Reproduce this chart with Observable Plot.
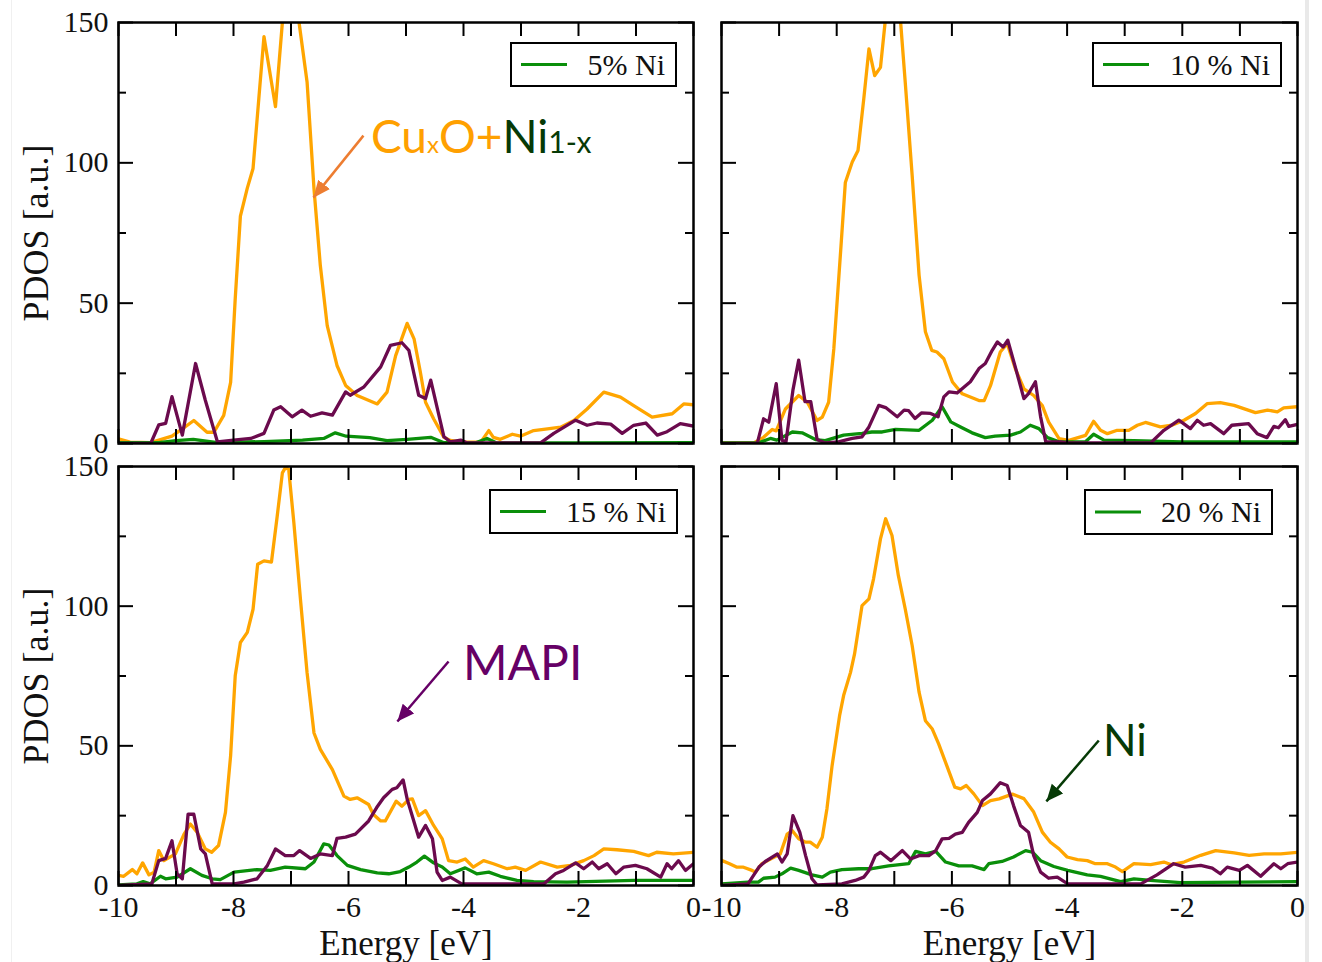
<!DOCTYPE html>
<html><head><meta charset="utf-8">
<script src="https://cdn.jsdelivr.net/npm/d3@7"></script>
<script src="https://cdn.jsdelivr.net/npm/@observablehq/plot@0.6"></script>
<style>
body{margin:0;background:#fff;}
#root{position:relative;width:1322px;height:962px;overflow:hidden;background:#fff;}
.panel{position:absolute;}
#overlay{position:absolute;left:0;top:0;pointer-events:none;}
.edge{position:absolute;top:0;height:962px;background:#e9e9e9;}
</style></head>
<body><div id="root">
<div class="edge" style="left:1305px;width:4px"></div>
<div class="edge" style="left:11px;width:1px;background:#f0f0f0"></div>
</div>
<script>
// ---------- data: [energy (eV), PDOS (a.u.)] ----------
const cu5 = [[-10,1.7],[-9.8,0.5],[-9.44,0.3],[-9.07,2.6],[-8.89,5.2],[-8.69,8.2],[-8.46,4.0],[-8.34,4.0],[-8.17,10],[-8.05,21.8],[-7.97,51.6],[-7.88,81],[-7.76,91],[-7.66,98],[-7.56,122.8],[-7.47,145],[-7.27,120],[-7.15,150],[-7.0,178],[-6.86,150],[-6.72,128.7],[-6.60,90.7],[-6.49,63.4],[-6.37,42],[-6.20,27.8],[-6.05,20.7],[-5.85,17.1],[-5.50,14.1],[-5.33,18.3],[-5.18,31.3],[-4.98,42.8],[-4.86,37.3],[-4.75,25.4],[-4.66,14.7],[-4.52,8.8],[-4.34,2.2],[-4.23,1.1],[-4.03,0.5],[-3.70,0.5],[-3.56,4.6],[-3.48,2.2],[-3.36,1.5],[-3.15,3.3],[-3.01,2.6],[-2.78,4.6],[-2.54,5.2],[-2.31,5.8],[-2.08,8.2],[-1.85,12.3],[-1.56,18.3],[-1.27,16.5],[-1.04,13.5],[-0.72,9.4],[-0.37,10.6],[-0.17,14.1],[0,13.8]];
const mapi5 = [[-10,0],[-9.44,0],[-9.30,6.6],[-9.18,7.2],[-9.07,16.7],[-8.89,3.0],[-8.66,28.5],[-8.49,15.4],[-8.28,0.6],[-8.0,1.2],[-7.70,1.8],[-7.47,3.6],[-7.30,11.9],[-7.18,13.1],[-6.98,9.5],[-6.81,11.9],[-6.66,9.7],[-6.46,10.9],[-6.28,10.1],[-6.05,18.4],[-5.97,17.2],[-5.73,20.2],[-5.44,27.3],[-5.27,35],[-5.07,35.9],[-4.95,33.2],[-4.78,17.2],[-4.66,16],[-4.57,22.6],[-4.34,2.4],[-4.23,0.6],[-4.05,1.2],[-3.93,0.2],[-2.66,0.2],[-2.43,3.6],[-2.05,8.3],[-1.85,6.5],[-1.68,7.3],[-1.44,6.9],[-1.24,3.6],[-1.04,6.5],[-0.83,7.3],[-0.63,3.0],[-0.46,4.2],[-0.23,7.1],[0,6.2]];
const ni5 = [[-10,0.3],[-9.3,0.3],[-9.0,1.0],[-8.7,1.5],[-8.28,0.3],[-7.47,0.7],[-6.8,1.2],[-6.43,1.8],[-6.23,3.8],[-6.04,2.6],[-5.63,2.1],[-5.33,1.0],[-4.98,1.5],[-4.57,2.2],[-4.34,0.3],[-3.8,0.2],[-3.59,1.8],[-3.42,0.2],[-2.0,0.2],[0,0.3]];

const cu10 = [[-10,0.2],[-9.44,0.2],[-9.27,2.2],[-9.12,5.0],[-9.05,4.5],[-8.89,12.3],[-8.66,17.1],[-8.51,14.7],[-8.34,8.2],[-8.25,9.4],[-8.14,14.7],[-8.05,33.7],[-7.93,69],[-7.85,93],[-7.73,100.3],[-7.63,104.4],[-7.53,122.8],[-7.44,140.6],[-7.34,131.1],[-7.24,134],[-7.16,150],[-7.03,172],[-6.89,150],[-6.81,128.7],[-6.69,95.5],[-6.57,60],[-6.46,39.8],[-6.35,33.2],[-6.26,32.6],[-6.14,30.2],[-5.99,21.9],[-5.82,17.7],[-5.53,15.3],[-5.44,15.3],[-5.33,20.6],[-5.16,32.6],[-5.04,35.6],[-4.90,26.7],[-4.75,19.5],[-4.58,17.1],[-4.43,13.5],[-4.32,7.6],[-4.14,1.7],[-3.97,1.1],[-3.68,2.9],[-3.54,7.9],[-3.42,4.7],[-3.30,3.5],[-3.13,4.7],[-2.93,4.7],[-2.78,6.5],[-2.64,7.5],[-2.38,5.9],[-2.18,6.5],[-1.97,8.3],[-1.77,10.7],[-1.57,14.2],[-1.34,14.6],[-1.10,13.6],[-0.73,11],[-0.52,11.9],[-0.35,11.3],[-0.24,12.7],[0,13.1]];
const mapi10 = [[-10,0],[-9.38,0],[-9.27,8.8],[-9.18,7.6],[-9.05,21.3],[-8.95,1.1],[-8.88,0.6],[-8.76,19.0],[-8.66,29.7],[-8.55,14.9],[-8.45,14.9],[-8.34,1.4],[-8.2,0.2],[-7.97,0.6],[-7.73,1.8],[-7.56,2.4],[-7.44,5.9],[-7.27,13.6],[-7.15,12.8],[-6.95,9.5],[-6.83,11.9],[-6.75,11.7],[-6.64,8.9],[-6.53,10.9],[-6.37,10.7],[-6.24,9.5],[-6.14,16.6],[-6.05,18.4],[-5.91,18],[-5.68,22],[-5.53,26.7],[-5.42,28.5],[-5.30,33.2],[-5.21,36.2],[-5.11,34.4],[-5.03,36.8],[-4.90,27.3],[-4.75,16],[-4.67,17.8],[-4.55,22],[-4.46,9.5],[-4.37,0.6],[-4.11,0.6],[-3.99,0.2],[-2.55,0.2],[-2.32,4.7],[-2.06,8.3],[-1.86,5.3],[-1.74,8.3],[-1.63,6.5],[-1.51,7.1],[-1.28,3.5],[-1.14,6.5],[-0.85,7.1],[-0.70,3.5],[-0.53,2.1],[-0.41,6.1],[-0.33,5.6],[-0.21,8.5],[-0.15,6.1],[0,6.8]];
const ni10 = [[-10,0.2],[-9.36,0.2],[-9.15,1.8],[-9.04,1.2],[-8.77,4.1],[-8.60,3.8],[-8.37,1.4],[-8.2,1.0],[-7.88,3.0],[-7.56,3.6],[-7.39,4.1],[-7.21,4.1],[-6.98,5.0],[-6.57,4.7],[-6.34,8.3],[-6.17,13.1],[-6.02,7.7],[-5.85,5.9],[-5.65,3.8],[-5.42,2.1],[-5.25,2.6],[-4.98,3.0],[-4.81,4.1],[-4.64,6.5],[-4.49,5.3],[-4.34,2.1],[-4.14,0.6],[-3.68,0.6],[-3.54,3.3],[-3.36,1.2],[-2.84,1.0],[-2.0,0.6],[0,0.6]];

const cu15 = [[-10,3.6],[-9.91,3.3],[-9.76,5.7],[-9.68,4.2],[-9.58,8.1],[-9.47,3.8],[-9.38,4.8],[-9.30,12.5],[-9.21,8.9],[-9.01,11.3],[-8.86,18.4],[-8.75,22],[-8.63,19],[-8.49,13.1],[-8.38,11.9],[-8.26,14.3],[-8.14,26.2],[-8.05,46.5],[-7.97,75.1],[-7.88,87],[-7.76,90.6],[-7.66,98.9],[-7.58,115],[-7.47,116.2],[-7.34,115.8],[-7.24,132.2],[-7.15,147.7],[-7.10,149.5],[-7.04,149],[-6.95,129.8],[-6.83,101.2],[-6.72,76.1],[-6.60,54.6],[-6.49,48.7],[-6.28,41.5],[-6.08,32],[-5.97,30.8],[-5.85,31.4],[-5.65,29],[-5.57,25.5],[-5.44,23.1],[-5.36,23.1],[-5.17,30.2],[-5.07,28.4],[-4.95,30.8],[-4.89,31],[-4.78,25],[-4.66,26.8],[-4.52,21.5],[-4.37,16.7],[-4.26,8.9],[-4.11,8.4],[-3.97,9.5],[-3.83,6.6],[-3.65,8.9],[-3.48,7.8],[-3.24,6],[-3.10,6.6],[-2.92,5.4],[-2.66,8.4],[-2.37,6.6],[-2.14,7.2],[-1.91,8.9],[-1.73,10.7],[-1.56,13.1],[-1.33,12.8],[-1.04,12.2],[-0.78,10.7],[-0.64,11.9],[-0.35,11.3],[0,11.9]];
const mapi15 = [[-10,0],[-9.42,0.6],[-9.30,8.9],[-9.18,9.7],[-9.07,16],[-8.98,4.1],[-8.89,2.4],[-8.79,25.5],[-8.69,25.5],[-8.57,13.1],[-8.49,11.3],[-8.37,0.6],[-7.99,0.6],[-7.82,1.2],[-7.59,2.4],[-7.41,7.2],[-7.27,13.1],[-7.10,10.7],[-6.95,10.7],[-6.85,12.5],[-6.66,9.7],[-6.49,11.3],[-6.28,10.7],[-6.20,16.9],[-6.05,17.3],[-5.88,18.4],[-5.65,23.1],[-5.51,27.9],[-5.39,31.4],[-5.24,34.4],[-5.16,35],[-5.05,37.8],[-4.98,31],[-4.78,17.3],[-4.66,21.5],[-4.54,16.7],[-4.46,4.8],[-4.37,1.8],[-4.23,3.0],[-4.03,0.6],[-2.60,0.6],[-2.40,4.2],[-2.26,5.4],[-2.05,8.1],[-1.91,6],[-1.76,8.4],[-1.65,6],[-1.50,7.8],[-1.35,4.2],[-1.21,6.6],[-1.01,7.2],[-0.81,6],[-0.57,3],[-0.46,7.8],[-0.38,6],[-0.26,8.9],[-0.14,5.4],[0,7.8]];
const ni15 = [[-10,0.2],[-9.68,0.6],[-9.57,1.4],[-9.45,0.6],[-9.27,3.3],[-9.18,2.4],[-8.98,3],[-8.75,6],[-8.55,3.6],[-8.37,2.4],[-8.23,2.1],[-7.99,4.8],[-7.59,5.7],[-7.36,5.4],[-7.10,6.6],[-6.75,6],[-6.60,8.4],[-6.43,14.9],[-6.34,14.5],[-6.20,10.7],[-6.02,7.2],[-5.79,5.7],[-5.50,4.5],[-5.30,4.2],[-5.10,5.0],[-4.95,6.6],[-4.81,8.4],[-4.68,10.5],[-4.52,8.1],[-4.37,6.6],[-4.23,4.2],[-3.97,6.3],[-3.77,4.2],[-3.56,4.8],[-3.36,3.3],[-3.07,1.8],[-2.78,1.4],[-2.20,1.2],[-1.04,1.8],[0,1.8]];

const cu20 = [[-10,9],[-9.86,7.8],[-9.74,6.6],[-9.63,6.6],[-9.47,5.4],[-9.41,4.8],[-9.30,7.8],[-9.15,9.5],[-8.98,11.3],[-8.86,18.4],[-8.77,19.6],[-8.66,16.7],[-8.54,15.5],[-8.46,15.5],[-8.34,13.7],[-8.25,17.3],[-8.17,27.4],[-8.08,42.9],[-7.95,60.8],[-7.88,68],[-7.76,76.3],[-7.69,82.9],[-7.56,100.2],[-7.44,102.6],[-7.36,109.8],[-7.24,124.1],[-7.15,131.3],[-7.04,125.3],[-6.93,111],[-6.81,99],[-6.69,85.9],[-6.57,69.2],[-6.46,59],[-6.34,56],[-6.23,50.7],[-6.11,44.1],[-5.95,35.2],[-5.85,34.6],[-5.75,35.8],[-5.62,32.8],[-5.47,28.6],[-5.33,30.4],[-5.18,31],[-4.95,32.7],[-4.75,31.1],[-4.58,26.3],[-4.43,19.1],[-4.29,15.5],[-4.14,13.1],[-4.0,10.2],[-3.82,9.3],[-3.65,8.9],[-3.51,7.8],[-3.30,7.8],[-3.16,6.6],[-3.04,5],[-2.84,7.8],[-2.55,7.5],[-2.32,8.4],[-2.20,7.5],[-1.97,8.4],[-1.68,10.8],[-1.42,12.5],[-1.10,11.7],[-0.84,10.8],[-0.58,11.3],[-0.29,11.3],[0,11.9]];
const mapi20 = [[-10,0],[-9.54,0.6],[-9.35,6.6],[-9.24,8.6],[-9.03,11.3],[-8.95,8.4],[-8.86,11.3],[-8.76,25],[-8.64,19],[-8.54,10.7],[-8.43,2.4],[-8.34,0.2],[-7.91,0.6],[-7.68,1.8],[-7.53,3.0],[-7.44,5.4],[-7.33,10.7],[-7.24,11.9],[-7.06,8.9],[-6.86,12.5],[-6.72,9.5],[-6.57,10.7],[-6.40,10.7],[-6.28,12.5],[-6.17,16.7],[-6.05,16.9],[-5.94,18.4],[-5.82,19],[-5.71,22.6],[-5.56,26.2],[-5.47,30.4],[-5.33,32.8],[-5.16,36.8],[-5.04,35.8],[-4.93,28.6],[-4.81,21.5],[-4.67,19.1],[-4.58,10.7],[-4.46,4.8],[-4.32,2.6],[-4.17,3.0],[-3.99,0.6],[-2.72,0.6],[-2.44,3.8],[-2.15,7.8],[-1.95,6.6],[-1.68,7.2],[-1.48,6.2],[-1.34,4.2],[-1.22,6.6],[-1.01,5.4],[-0.87,7.2],[-0.64,3.3],[-0.41,7.8],[-0.29,6],[-0.17,7.8],[0,8.4]];
const ni20 = [[-10,0.6],[-9.54,1.2],[-9.36,1.2],[-9.27,2.6],[-9.07,3.0],[-8.95,4.2],[-8.80,6.2],[-8.66,5.4],[-8.43,3.8],[-8.25,3],[-8.11,4.8],[-7.91,5.7],[-7.62,6],[-7.39,6],[-7.10,7],[-6.75,7.8],[-6.63,12.2],[-6.46,11.3],[-6.28,12.2],[-6.11,8.4],[-5.88,7],[-5.65,7],[-5.44,5.7],[-5.36,7.8],[-5.13,8.6],[-4.93,10.2],[-4.72,12.5],[-4.60,11.9],[-4.46,8.9],[-4.23,6.8],[-3.99,5.4],[-3.65,3.8],[-3.42,3.3],[-3.07,1.4],[-2.84,2.4],[-2.55,1.8],[-2.03,1.0],[0,1.4]];

// ticks and labels
const xTicks = [-10,-9,-8,-7,-6,-5,-4,-3,-2,-1,0];
const xTickLabels = [-10,-8,-6,-4,-2,0];
const yMajor = [0,50,100,150];
const yMinor = [25,75,125];
const legendLabels = ["5% Ni","10 % Ni","15 % Ni","20 % Ni"];
// annotation arrows in data coordinates [x1,y1,x2,y2]
const arrowCu = [[-5.74,109.7,-6.61,87.6]];
const arrowMapi = [[-4.26,80.2,-5.15,58.7]];
const arrowNi = [[-3.45,51.9,-4.36,30.1]];

const ORANGE = "#FFA500", PURPLE = "#6b0a4d", GREEN = "#0a8f0a";
const SERIF = "'Liberation Serif','Times New Roman',serif";

function filledHead(color){
  return (c, context) => {
    const doc = (context && context.document) || document;
    const ns = "http://www.w3.org/2000/svg";
    const m = doc.createElementNS(ns, "marker");
    m.setAttribute("viewBox", "-17 -8 18 16");
    m.setAttribute("markerWidth", "18");
    m.setAttribute("markerHeight", "16");
    m.setAttribute("markerUnits", "userSpaceOnUse");
    m.setAttribute("orient", "auto");
    const p = doc.createElementNS(ns, "path");
    p.setAttribute("d", "M-17,-7.5L0,0L-17,7.5Z");
    p.setAttribute("fill", color);
    p.setAttribute("stroke", "none");
    m.appendChild(p);
    return m;
  };
}

function panel({cu, mapi, ni, left, top, width, height, mL, mR, mT, mB, yLabels, xLabels, arrows, arrowColor}){
  const iw = width - mL - mR, ih = height - mT - mB;
  const build = (useMarker) => {
    const marks = [
      Plot.line(cu, {x: d => d[0], y: d => d[1], stroke: ORANGE, strokeWidth: 3.3, clip: true}),
      Plot.line(ni, {x: d => d[0], y: d => d[1], stroke: GREEN, strokeWidth: 3.3, clip: true}),
      Plot.line(mapi, {x: d => d[0], y: d => d[1], stroke: PURPLE, strokeWidth: 3.3, clip: true}),
      Plot.tickX(xTicks, {x: d => d, insetBottom: ih - 14, stroke: "#000", strokeWidth: 2}),
      Plot.tickX(xTicks, {x: d => d, insetTop: ih - 14, stroke: "#000", strokeWidth: 2}),
      Plot.tickY(yMajor, {y: d => d, insetRight: iw - 15, stroke: "#000", strokeWidth: 2}),
      Plot.tickY(yMinor, {y: d => d, insetRight: iw - 8, stroke: "#000", strokeWidth: 2}),
      Plot.tickY(yMajor, {y: d => d, insetLeft: iw - 15, stroke: "#000", strokeWidth: 2}),
      Plot.tickY(yMinor, {y: d => d, insetLeft: iw - 8, stroke: "#000", strokeWidth: 2}),
      Plot.frame({stroke: "#000", strokeWidth: 2.5})
    ];
    if (yLabels) {
      marks.push(Plot.axisY({ticks: yMajor, tickSize: 0, tickPadding: 10, tickFormat: d => String(d), fontSize: 30, fontFamily: SERIF, label: null}));
      marks.push(Plot.text(["PDOS [a.u.]"], {text: d => d, frameAnchor: "left", textAnchor: "middle", lineAnchor: "middle", dx: -82, rotate: -90, fontSize: 36, fontFamily: SERIF, fill: "#111"}));
    }
    if (xLabels) {
      marks.push(Plot.axisX({ticks: xTickLabels, tickSize: 0, tickPadding: 10, tickFormat: d => String(d), fontSize: 30, fontFamily: SERIF, label: null}));
      marks.push(Plot.text(["Energy [eV]"], {text: d => d, frameAnchor: "bottom", textAnchor: "middle", lineAnchor: "bottom", dy: 69, fontSize: 35, fontFamily: SERIF, fill: "#111"}));
    }
    if (arrows) {
      if (useMarker) {
        marks.push(Plot.link(arrows, {x1: d => d[0], y1: d => d[1], x2: d => d[2], y2: d => d[3], stroke: arrowColor, strokeWidth: 2.5, markerEnd: filledHead(arrowColor)}));
      } else {
        marks.push(Plot.arrow(arrows, {x1: d => d[0], y1: d => d[1], x2: d => d[2], y2: d => d[3], stroke: arrowColor, strokeWidth: 2.5, headLength: 16, headAngle: 55}));
      }
    }
    return Plot.plot({
      width, height, marginLeft: mL, marginRight: mR, marginTop: mT, marginBottom: mB,
      x: {domain: [-10, 0], axis: null},
      y: {domain: [0, 150], axis: null},
      style: {overflow: "visible", fontFamily: SERIF, background: "transparent", color: "#111"},
      marks
    });
  };
  let svg;
  try { svg = build(true); } catch (e) { svg = build(false); }
  svg.classList.add("panel");
  svg.style.position = "absolute";
  svg.style.left = left + "px";
  svg.style.top = top + "px";
  document.getElementById("root").appendChild(svg);
}

panel({cu: cu5, mapi: mapi5, ni: ni5, left: 0, top: 0, width: 700, height: 462, mL: 118, mR: 7, mT: 22, mB: 19, yLabels: true, xLabels: false, arrows: arrowCu, arrowColor: "#ED7D31"});
panel({cu: cu10, mapi: mapi10, ni: ni10, left: 700, top: 0, width: 622, height: 462, mL: 21, mR: 25, mT: 22, mB: 19, yLabels: false, xLabels: false});
panel({cu: cu15, mapi: mapi15, ni: ni15, left: 0, top: 462, width: 700, height: 500, mL: 118, mR: 7, mT: 4, mB: 77, yLabels: true, xLabels: true, arrows: arrowMapi, arrowColor: "#660066"});
panel({cu: cu20, mapi: mapi20, ni: ni20, left: 700, top: 462, width: 622, height: 500, mL: 21, mR: 25, mT: 4, mB: 77, yLabels: false, xLabels: true, arrows: arrowNi, arrowColor: "#063a06"});

// overlay: legends and annotation labels
const ns = "http://www.w3.org/2000/svg";
const ov = document.createElementNS(ns, "svg");
ov.setAttribute("id", "overlay");
ov.setAttribute("width", 1322); ov.setAttribute("height", 962);
const legendBoxes = [[511,43,165,43],[1093,43,188,43],[490,490,187,43],[1085,490,187,44]];
legendBoxes.forEach(([x,y,w,h], i) => {
  const r = document.createElementNS(ns, "rect");
  r.setAttribute("x", x); r.setAttribute("y", y); r.setAttribute("width", w); r.setAttribute("height", h);
  r.setAttribute("fill", "#fff"); r.setAttribute("stroke", "#000"); r.setAttribute("stroke-width", 2);
  ov.appendChild(r);
  const l = document.createElementNS(ns, "line");
  l.setAttribute("x1", x + 10); l.setAttribute("x2", x + 56);
  l.setAttribute("y1", y + h/2); l.setAttribute("y2", y + h/2);
  l.setAttribute("stroke", GREEN); l.setAttribute("stroke-width", 3);
  ov.appendChild(l);
  const t = document.createElementNS(ns, "text");
  t.setAttribute("x", x + w - 11); t.setAttribute("y", y + h/2 + 10);
  t.setAttribute("text-anchor", "end");
  t.setAttribute("font-family", SERIF); t.setAttribute("font-size", 30); t.setAttribute("fill", "#111");
  t.textContent = legendLabels[i];
  ov.appendChild(t);
});
function label(x, y, parts){
  const t = document.createElementNS(ns, "text");
  t.setAttribute("x", x); t.setAttribute("y", y);
  t.setAttribute("font-family", "Lato, 'Open Sans', sans-serif");
  parts.forEach(([s, size, color]) => {
    const sp = document.createElementNS(ns, "tspan");
    sp.setAttribute("font-size", size); sp.setAttribute("fill", color);
    sp.textContent = s;
    t.appendChild(sp);
  });
  ov.appendChild(t);
}
label(371, 153, [["Cu", 46, "#FFA000"], ["x", 24, "#FFA000"], ["O+", 46, "#FFA000"], ["Ni", 46, "#063a06"], ["1-x", 30, "#063a06"]]);
label(463, 680, [["MAPI", 48, "#660066"]]);
label(1103, 756, [["Ni", 44, "#063a06"]]);
document.getElementById("root").appendChild(ov);
</script>
</body></html>
